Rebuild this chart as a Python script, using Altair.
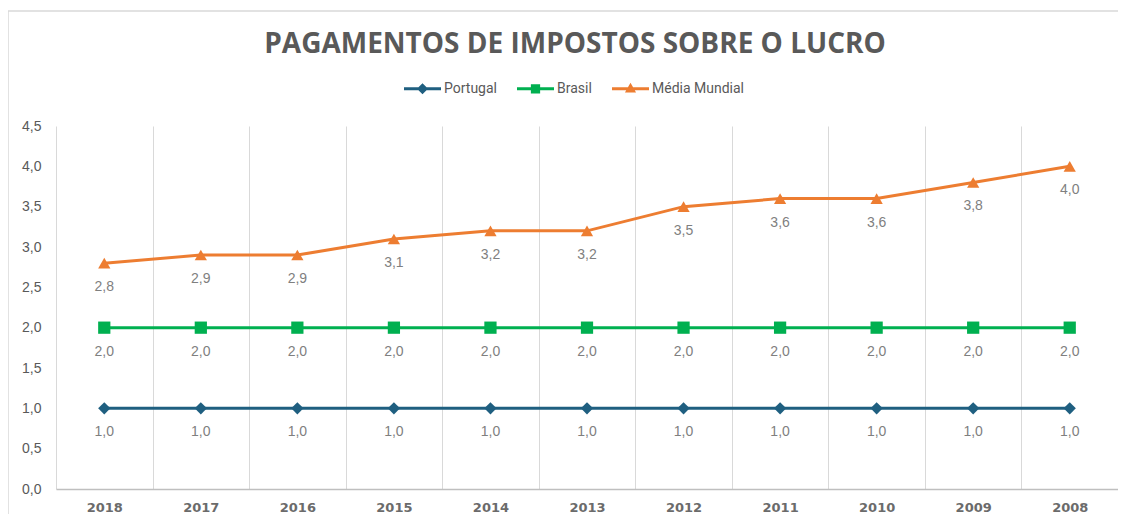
import altair as alt
import pandas as pd

years = ["2018", "2017", "2016", "2015", "2014", "2013", "2012", "2011", "2010", "2009", "2008"]
portugal = [1.0, 1.0, 1.0, 1.0, 1.0, 1.0, 1.0, 1.0, 1.0, 1.0, 1.0]
brasil = [2.0, 2.0, 2.0, 2.0, 2.0, 2.0, 2.0, 2.0, 2.0, 2.0, 2.0]
media = [2.8, 2.9, 2.9, 3.1, 3.2, 3.2, 3.5, 3.6, 3.6, 3.8, 4.0]
series = ["Portugal", "Brasil", "Média Mundial"]
colors = ["#1F5F80", "#00B050", "#ED7D31"]
shapes = ["diamond", "square", "triangle-up"]
legend_paths = [
    "M-1,-0.08 L1,-0.08 L1,0.08 L-1,0.08 Z M0,-0.3 L0.3,0 L0,0.3 L-0.3,0 Z",
    "M-1,-0.08 L1,-0.08 L1,0.08 L-1,0.08 Z M-0.25,-0.25 L0.25,-0.25 L0.25,0.25 L-0.25,0.25 Z",
    "M-1,-0.08 L1,-0.08 L1,0.08 L-1,0.08 Z M0,-0.32 L0.3,0.2 L-0.3,0.2 Z",
]

rows = []
for name, vals in zip(series, [portugal, brasil, media]):
    for y, v in zip(years, vals):
        rows.append({"ano": y, "serie": name, "serie_leg": name, "valor": v})
df = pd.DataFrame(rows)

xenc = alt.X(
    "ano:N",
    sort=years,
    title=None,
    scale=alt.Scale(type="band", paddingInner=0, paddingOuter=0),
    axis=alt.Axis(
        grid=True, tickBand="extent", gridColor="#D9D9D9", gridWidth=1,
        ticks=False, domain=True, domainColor="#BFBFBF", domainWidth=1.5,
        labelFont="DejaVu Sans", labelFontWeight="bold", labelFontSize=13,
        labelColor="#6B6B6B", labelPadding=12, labelAngle=0,
    ),
)
yenc = alt.Y(
    "valor:Q",
    title=None,
    scale=alt.Scale(domain=[0, 4.5], nice=False),
    axis=alt.Axis(
        values=[0, 0.5, 1, 1.5, 2, 2.5, 3, 3.5, 4, 4.5], grid=False, ticks=False,
        domain=False, labelFont="Liberation Sans", labelFontSize=14,
        labelColor="#595959", labelPadding=15,
        labelExpr="replace(format(datum.value, '.1f'), '.', ',')",
    ),
)
cenc = alt.Color("serie:N", scale=alt.Scale(domain=series, range=colors), legend=None)

base = alt.Chart(df)

border = alt.Chart(pd.DataFrame({"a": [0]})).mark_rect(
    fillOpacity=0, stroke="#D9D9D9", strokeWidth=1.5
).encode(x=alt.value(-48), x2=alt.value(1200), y=alt.value(-115), y2=alt.value(600))

lines = base.mark_line(strokeWidth=3).encode(x=xenc, y=yenc, color=cenc, detail="serie:N")
points = base.mark_point(filled=True, size=150, opacity=1).encode(
    x=xenc, y=yenc, color=cenc,
    shape=alt.Shape("serie:N", scale=alt.Scale(domain=series, range=shapes), legend=None),
)
labels = base.transform_calculate(
    lab="replace(format(datum.valor, '.1f'), '.', ',')"
).mark_text(dy=24, font="Liberation Sans", fontSize=14, color="#7F7F7F").encode(
    x=xenc, y=yenc, text="lab:N"
)
leg = alt.Legend(orient="none", direction="horizontal", legendX=348, legendY=-56,
                 symbolSize=1369, symbolOpacity=1, symbolStrokeWidth=0,
                 labelFont="Roboto", labelFontSize=14, labelColor="#595959",
                 labelOffset=3, columnPadding=20)
legend_layer = base.mark_point(filled=True, size=0, opacity=0).encode(
    x=xenc, y=yenc,
    color=alt.Color("serie_leg:N", scale=alt.Scale(domain=series, range=colors), title=None, legend=leg),
    shape=alt.Shape("serie_leg:N", scale=alt.Scale(domain=series, range=legend_paths), title=None, legend=leg),
)

chart = alt.layer(border, lines, points, labels, legend_layer).resolve_scale(
    color="independent", shape="independent"
).properties(
    width=1062,
    height=363,
    autosize=alt.AutoSizeParams(type="none"),
    padding={"left": 48, "top": 118, "right": 0, "bottom": 25},
    background="white",
    title=alt.Title(
        "PAGAMENTOS DE IMPOSTOS SOBRE O LUCRO",
        font="Open Sans", fontSize=28, fontWeight="bold", color="#595959",
        anchor="middle", offset=-49, dx=-12, limit=0,
    ),
).configure_view(stroke=None)

chart.save("out.html", embed_options={"renderer": "svg", "actions": False})
